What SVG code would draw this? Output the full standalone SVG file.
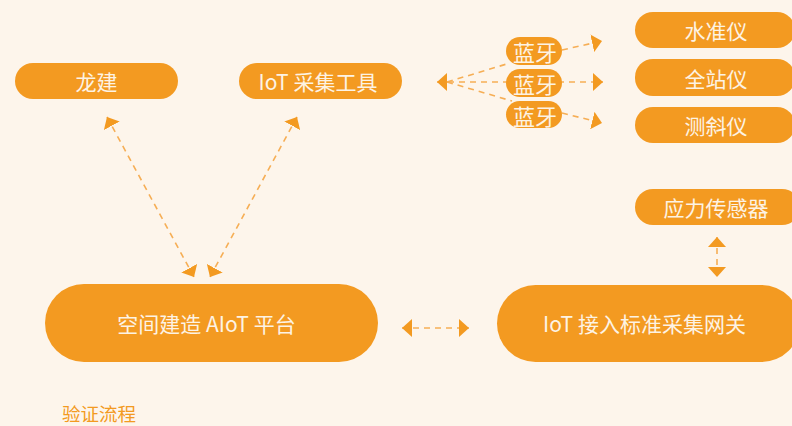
<svg xmlns="http://www.w3.org/2000/svg" width="792" height="426" viewBox="0 0 792 426">
<defs>
<style>
.node{fill:#f39a21}
.t{fill:#fdf3e4;font-family:"Noto Sans CJK SC","Noto Sans",sans-serif;font-size:21px;text-anchor:middle;dominant-baseline:central}
.bt{font-size:22px}
.c{fill:none;stroke:#f6ae55;stroke-width:1.6;stroke-dasharray:6 5}
.cap{fill:#f39a21;font-family:"Noto Sans CJK SC","Noto Sans",sans-serif;font-size:18.5px}
</style>
<marker id="ah" viewBox="0 0 10 18" refX="10" refY="9" markerWidth="10" markerHeight="18" markerUnits="userSpaceOnUse" orient="auto-start-reverse">
<path d="M0,0 L10,9 L0,18 Z" fill="#f39a21"/>
</marker>
</defs>
<rect width="792" height="426" fill="#fdf5eb"/>
<g id="connectors">
<line class="c" x1="107" y1="117" x2="194" y2="277" marker-start="url(#ah)" marker-end="url(#ah)"/>
<line class="c" x1="297" y1="117" x2="210" y2="277" marker-start="url(#ah)" marker-end="url(#ah)"/>
<line class="c" x1="717" y1="237" x2="717" y2="277" marker-start="url(#ah)" marker-end="url(#ah)"/>
<line class="c" x1="402" y1="328" x2="469" y2="328" marker-start="url(#ah)" marker-end="url(#ah)"/>
<line class="c" x1="437" y1="82" x2="603" y2="82" marker-start="url(#ah)" marker-end="url(#ah)"/>
<path class="c" d="M447,82 L510,63 M562,50 L602,41" marker-end="url(#ah)"/>
<path class="c" d="M447,82 L512,101 M562,113 L602,123" marker-end="url(#ah)"/>
</g>
<g id="longjian"><rect class="node" x="15" y="63" width="163" height="36" rx="18"/><text class="t" x="96.5" y="81">龙建</text></g>
<g id="iot-tool"><rect class="node" x="239" y="63" width="163" height="36" rx="18"/><text class="t" x="318" y="81">IoT 采集工具</text></g>
<g id="shuizhunyi"><rect class="node" x="635" y="12" width="160" height="36" rx="18"/><text class="t" x="716" y="30">水准仪</text></g>
<g id="quanzhanyi"><rect class="node" x="635" y="59" width="160" height="37" rx="18"/><text class="t" x="716" y="77.5">全站仪</text></g>
<g id="cexieyi"><rect class="node" x="635" y="107" width="160" height="36" rx="18"/><text class="t" x="716" y="125">测斜仪</text></g>
<g id="bt1"><rect class="node" x="506" y="37" width="56" height="28" rx="14"/><text class="t bt" x="535" y="51">蓝牙</text></g>
<g id="bt2"><rect class="node" x="506" y="69" width="56" height="28" rx="14"/><text class="t bt" x="535" y="83">蓝牙</text></g>
<g id="bt3"><rect class="node" x="506" y="101" width="56" height="27" rx="13.5"/><text class="t bt" x="535" y="114.5">蓝牙</text></g>
<g id="sensor"><rect class="node" x="635" y="189" width="165" height="36" rx="18"/><text class="t" x="716" y="207">应力传感器</text></g>
<g id="platform"><rect class="node" x="45" y="284" width="333" height="78" rx="39"/><text class="t" x="206.5" y="323">空间建造 AIoT 平台</text></g>
<g id="gateway"><rect class="node" x="497" y="285" width="303" height="77" rx="38.5"/><text class="t" x="644.5" y="323">IoT 接入标准采集网关</text></g>
<text class="cap" x="62" y="421">验证流程</text>
</svg>
